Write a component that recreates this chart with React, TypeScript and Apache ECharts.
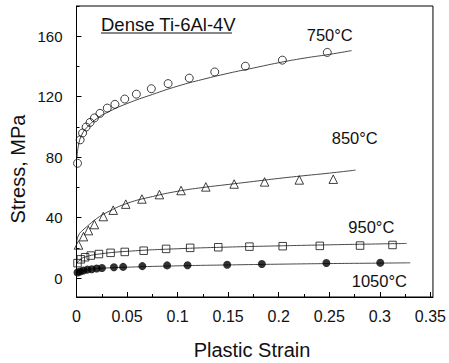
import React, { useEffect, useRef } from "react";
import * as echarts from "echarts";

// Measured points (plastic strain, stress MPa)
const pts750: [number, number][] = [
  [0.001, 76], [0.0036, 91.5], [0.006, 96], [0.0095, 100], [0.0134, 103], [0.0177, 106],
  [0.0232, 109], [0.0304, 112.5], [0.038, 115], [0.0477, 118.5], [0.0592, 121.7], [0.074, 125.3],
  [0.0906, 128.7], [0.1115, 132.3], [0.1367, 136.4], [0.167, 140.2], [0.2036, 144.2], [0.248, 149.3],
];
const pts850: [number, number][] = [
  [0.002, 22], [0.0069, 27.5], [0.0118, 31.5], [0.0177, 35.5], [0.0265, 40.8], [0.0363, 45],
  [0.0487, 49], [0.0647, 52.4], [0.082, 55.3], [0.1034, 58], [0.1279, 60.4], [0.1559, 62.3],
  [0.186, 63.7], [0.2203, 65], [0.2539, 65.5],
];
const pts950: [number, number][] = [
  [0.001, 10], [0.0043, 12.5], [0.0085, 13.9], [0.0141, 15], [0.0222, 16], [0.0337, 16.8],
  [0.0477, 17.4], [0.0664, 18.2], [0.0886, 19.4], [0.1124, 20.1], [0.1402, 20.5], [0.171, 20.9],
  [0.2039, 21.2], [0.2406, 21.4], [0.2804, 21.6], [0.3125, 22],
];
const pts1050: [number, number][] = [
  [0.001, 3.8], [0.0036, 4.5], [0.0069, 5.1], [0.0108, 5.7], [0.0151, 6], [0.02, 6.4],
  [0.0252, 6.8], [0.037, 7.3], [0.0461, 7.5], [0.0651, 8], [0.0896, 8.5], [0.1098, 8.6],
  [0.149, 8.9], [0.1833, 9.4], [0.2471, 10.1], [0.3004, 10.3],
];

// Fitted curves
const fit750: [number, number][] = [
  [0.0005, 80], [0.002, 88], [0.005, 94.5], [0.01, 99.5], [0.02, 105.5], [0.03, 109.5],
  [0.05, 115.5], [0.075, 121.5], [0.1, 127], [0.125, 131.5], [0.15, 135.5], [0.175, 139],
  [0.2, 142.5], [0.225, 145.5], [0.25, 148], [0.272, 150.5],
];
const fit850: [number, number][] = [
  [0.0005, 25], [0.002, 28.5], [0.005, 31], [0.01, 34], [0.02, 39.5], [0.03, 43.5],
  [0.05, 49.5], [0.075, 54], [0.1, 57.5], [0.125, 60], [0.15, 62], [0.175, 64],
  [0.2, 66], [0.225, 67.8], [0.25, 69.5], [0.276, 71.5],
];
const fit950: [number, number][] = [
  [0.0005, 10], [0.005, 13], [0.01, 14.3], [0.02, 15.8], [0.05, 17.8], [0.1, 19.5],
  [0.15, 20.6], [0.2, 21.4], [0.25, 22.1], [0.3, 22.7], [0.3265, 23],
];
const fit1050: [number, number][] = [
  [0.0005, 4], [0.005, 5], [0.01, 5.6], [0.02, 6.4], [0.05, 7.3], [0.1, 8.2],
  [0.15, 8.8], [0.2, 9.3], [0.25, 9.7], [0.3, 10], [0.33, 10.2],
];

const xMajor = [0, 0.05, 0.1, 0.15, 0.2, 0.25, 0.3, 0.35];
const xMinor = [0.025, 0.075, 0.125, 0.175, 0.225, 0.275, 0.325];
const yMajor = [0, 40, 80, 120, 160];
const yMinor = [20, 60, 100, 140, 180];

const tempLabels = ["750°C", "850°C", "950°C", "1050°C"];
const title = "Dense Ti-6Al-4V";
const xName = "Plastic Strain";
const yName = "Stress, MPa";

const FONT = "'Liberation Sans', Arial, Helvetica, sans-serif";
const INK = "#111";

export default function App() {
  const ref = useRef<HTMLDivElement>(null);
  useEffect(() => {
    if (!ref.current) return;
    const chart = echarts.init(ref.current, undefined, { renderer: "svg" });
    const xMin = 0, xMax = 0.3525, yMin = -12.4, yMax = 180;
    const baseX = {
      type: "value" as const, min: xMin, max: xMax, position: "bottom" as const,
      splitLine: { show: false },
    };
    const baseY = {
      type: "value" as const, min: yMin, max: yMax, position: "left" as const,
      splitLine: { show: false },
    };
    const openStyle = { color: "rgba(255,255,255,0)", borderColor: INK, borderWidth: 1 };
    const lineStyle = { color: "#333", width: 0.9 };
    const scatter = (data: [number, number][], symbol: string, size: number, style: any) => ({
      type: "scatter", data, symbol, symbolSize: size, itemStyle: style, z: 3,
    });
    const curve = (data: [number, number][]) => ({
      type: "line", data, showSymbol: false, smooth: true, lineStyle, z: 2,
    });
    const label = (text: string, x: number, y: number) => ({
      type: "text", x, y,
      style: { text, fontSize: 16.5, fontFamily: FONT, fill: INK, align: "left", verticalAlign: "middle" },
    });
    chart.setOption({
      animation: false,
      backgroundColor: "#fff",
      grid: { left: 76.5, right: 13.3, top: 6, bottom: 66, show: true, borderColor: "#000", borderWidth: 1 },
      xAxis: [
        {
          ...baseX,
          axisLine: { onZero: false, lineStyle: { color: "#000", width: 1 } },
          axisTick: { inside: true, length: 5, customValues: xMajor, lineStyle: { color: "#000" } },
          axisLabel: {
            customValues: xMajor, fontSize: 16, fontFamily: FONT, color: INK, margin: 11,
            formatter: (v: number) => (v === 0 ? "0" : String(+v.toFixed(2))),
          },
        },
        {
          ...baseX,
          axisLine: { show: false, onZero: false },
          axisTick: { inside: true, length: 3, customValues: xMinor, lineStyle: { color: "#000" } },
          axisLabel: { show: false },
        },
      ],
      yAxis: [
        {
          ...baseY,
          axisLine: { onZero: false, lineStyle: { color: "#000", width: 1 } },
          axisTick: { inside: true, length: 5, customValues: yMajor, lineStyle: { color: "#000" } },
          axisLabel: { customValues: yMajor, fontSize: 15, fontFamily: FONT, color: INK, margin: 14 },
        },
        {
          ...baseY,
          axisLine: { show: false, onZero: false },
          axisTick: { inside: true, length: 3, customValues: yMinor, lineStyle: { color: "#000" } },
          axisLabel: { show: false },
        },
      ],
      series: [
        curve(fit750), curve(fit850), curve(fit950), curve(fit1050),
        scatter(pts750, "circle", 8, openStyle),
        scatter(pts850, "triangle", 8.5, openStyle),
        scatter(pts950, "rect", 7.5, openStyle),
        scatter(pts1050, "circle", 8, { color: "#000" }),
      ],
      graphic: [
        {
          type: "text", x: 101, y: 24,
          style: { text: title, fontSize: 18.5, fontFamily: FONT, fill: INK, align: "left", verticalAlign: "middle" },
        },
        { type: "line", shape: { x1: 101, y1: 33, x2: 232, y2: 33 }, style: { stroke: INK, lineWidth: 1 } },
        label(tempLabels[0], 306.7, 35),
        label(tempLabels[1], 331.7, 137.5),
        label(tempLabels[2], 348.3, 226.7),
        label(tempLabels[3], 351.7, 280.5),
        {
          type: "text", x: 252, y: 350,
          style: { text: xName, fontSize: 20, fontFamily: FONT, fill: INK, align: "center", verticalAlign: "middle" },
        },
        {
          type: "text", x: 18, y: 169, rotation: Math.PI / 2,
          style: { text: yName, fontSize: 20, fontFamily: FONT, fill: INK, align: "center", verticalAlign: "middle" },
        },
      ],
    });
    return () => chart.dispose();
  }, []);
  return (
    <div
      ref={ref}
      style={{ position: "absolute", left: 0, top: 0, width: 449, height: 363, background: "#fff" }}
    />
  );
}
